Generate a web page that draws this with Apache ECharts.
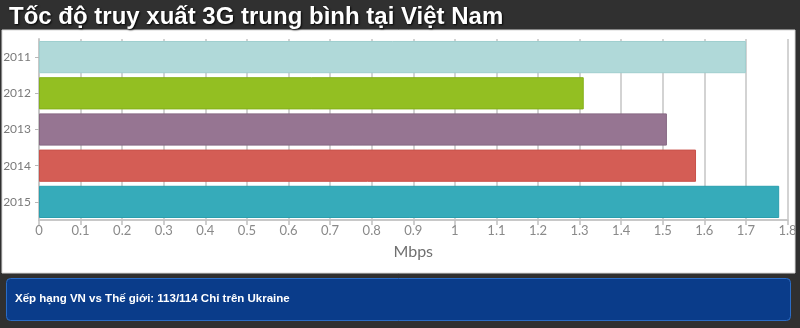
<!DOCTYPE html>
<html>
<head>
<meta charset="utf-8">
<style>
  html, body { margin: 0; padding: 0; background: #303030; }
  #chart { width: 800px; height: 328px; }
</style>
<script src="https://cdn.jsdelivr.net/npm/echarts@6/dist/echarts.min.js"></script>
</head>
<body>
<div id="chart"></div>
<script>
// Average 3G access speed in Vietnam, by year (Mbps)
const years = ['2011', '2012', '2013', '2014', '2015'];
const speeds = [1.70, 1.31, 1.51, 1.58, 1.78];
const barColors = ['#b0d9d9', '#93bf22', '#967592', '#d45d55', '#36abba'];
const barBorders = ['#9fcfcf', '#84b01a', '#876883', '#c9514a', '#2a9fae'];
const xTicks = { min: 0, max: 1.8, step: 0.1 };
const titleText = 'Tốc độ truy xuất 3G trung bình tại Việt Nam';
const noteText = 'Xếp hạng VN vs Thế giới: 113/114 Chỉ trên Ukraine';
const unitName = 'Mbps';

const chart = echarts.init(document.getElementById('chart'), null, { renderer: 'canvas' });

chart.setOption({
  backgroundColor: '#303030',
  animation: false,
  title: {
    text: titleText,
    left: 4,
    top: 0,
    textStyle: {
      fontFamily: 'Liberation Sans, Arial, sans-serif',
      fontWeight: 'bold',
      fontSize: 24,
      color: '#ffffff',
      textShadowColor: 'rgba(0,0,0,0.9)',
      textShadowBlur: 2,
      textShadowOffsetX: 1,
      textShadowOffsetY: 1
    }
  },
  graphic: [
    {
      type: 'rect',
      z: -10,
      shape: { x: 2, y: 30, width: 793, height: 243 },
      style: { fill: '#ffffff', stroke: '#d8d8d8', lineWidth: 1 }
    },
    {
      type: 'rect',
      z: -10,
      shape: { x: 6.5, y: 278.5, width: 784, height: 42, r: 4 },
      style: { fill: '#0a3c8a', stroke: '#2a6cc6', lineWidth: 1 }
    },
    {
      type: 'text',
      left: 15,
      top: 293,
      style: {
        text: noteText,
        fill: '#ffffff',
        font: 'bold 11.5px "Liberation Sans", Arial, sans-serif'
      }
    }
  ],
  grid: { left: 39, right: 12.5, top: 39, bottom: 108, containLabel: false },
  xAxis: {
    type: 'value',
    min: xTicks.min,
    max: xTicks.max,
    interval: xTicks.step,
    name: unitName,
    nameLocation: 'middle',
    nameGap: 24,
    nameTextStyle: { fontFamily: 'Lato', fontSize: 16, color: '#707070' },
    axisLine: { show: true, lineStyle: { color: '#c8c8c8', width: 2 } },
    axisTick: { show: true, length: 5, lineStyle: { color: '#c0c0c0', width: 1.5 } },
    axisLabel: {
      fontFamily: 'Lato',
      fontSize: 13,
      color: '#8a8a8a',
      margin: 4,
      formatter: v => String(Math.round(v * 10) / 10)
    },
    splitLine: { show: true, lineStyle: { color: '#c4c4c4', width: 1.5 } }
  },
  yAxis: {
    type: 'category',
    data: years,
    inverse: true,
    axisLine: { show: true, lineStyle: { color: '#c8c8c8', width: 2 } },
    axisTick: { show: true, length: 4, alignWithLabel: true, lineStyle: { color: '#b8b8b8' } },
    axisLabel: { fontFamily: 'Lato', fontSize: 12, color: '#7a7a7a', margin: 8 }
  },
  series: [{
    type: 'bar',
    barCategoryGap: '11%',
    data: speeds.map((v, i) => ({
      value: v,
      itemStyle: { color: barColors[i], borderColor: barBorders[i], borderWidth: 1 }
    }))
  }]
});
</script>
</body>
</html>
